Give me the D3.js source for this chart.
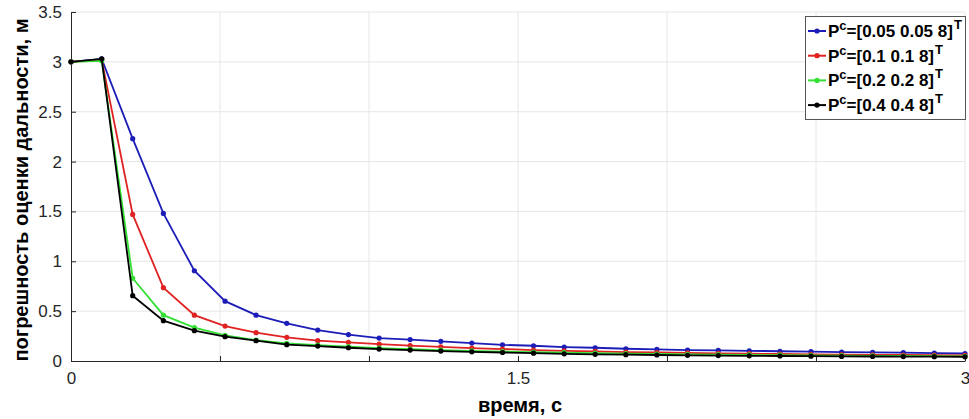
<!DOCTYPE html>
<html lang="ru">
<head>
<meta charset="UTF-8">
<title>погрешность оценки дальности</title>
<script src="https://d3js.org/d3.v7.min.js"></script>
<style>
  body, html { margin: 0; background: #fff; }
  svg { display: block; font-family: "Liberation Sans", Arial, sans-serif; }
  .tick text { fill: #262626; font-size: 17px; }
  .grid line { stroke: #e6e6e6; }
</style>
</head>
<body>
<svg id="chart" width="969" height="419"></svg>
<script>
// time samples, c (30 points from 0 to 3)
var times = [0, 0.103, 0.207, 0.310, 0.414, 0.517, 0.621, 0.724, 0.828, 0.931,
             1.034, 1.138, 1.241, 1.345, 1.448, 1.552, 1.655, 1.759, 1.862, 1.966,
             2.069, 2.172, 2.276, 2.379, 2.483, 2.586, 2.690, 2.793, 2.897, 3.0];

var blueVals = [3.0, 3.03, 2.23, 1.48, 0.905, 0.60, 0.46, 0.378, 0.31, 0.265,
                0.23, 0.215, 0.197, 0.18, 0.162, 0.153, 0.14, 0.133, 0.123, 0.117,
                0.11, 0.106, 0.102, 0.098, 0.094, 0.09, 0.087, 0.083, 0.079, 0.075];
var redVals = [3.0, 3.02, 1.47, 0.735, 0.46, 0.35, 0.284, 0.237, 0.204, 0.187,
               0.17, 0.155, 0.142, 0.13, 0.12, 0.11, 0.102, 0.096, 0.09, 0.085,
               0.081, 0.077, 0.073, 0.07, 0.067, 0.064, 0.062, 0.06, 0.058, 0.056];
var greenVals = [3.0, 3.01, 0.83, 0.46, 0.334, 0.258, 0.21, 0.177, 0.16, 0.145,
                 0.13, 0.12, 0.11, 0.102, 0.095, 0.089, 0.083, 0.078, 0.074, 0.07,
                 0.067, 0.064, 0.061, 0.058, 0.056, 0.054, 0.052, 0.05, 0.048, 0.047];
var blackVals = [3.0, 3.03, 0.655, 0.404, 0.304, 0.244, 0.204, 0.164, 0.15, 0.133,
                 0.12, 0.11, 0.1, 0.092, 0.085, 0.078, 0.072, 0.067, 0.063, 0.06,
                 0.057, 0.054, 0.052, 0.05, 0.048, 0.046, 0.045, 0.044, 0.043, 0.042];

var seriesLabels = ["[0.05 0.05 8]", "[0.1 0.1 8]", "[0.2 0.2 8]", "[0.4 0.4 8]"];
var seriesColors = ["#1c1cb8", "#e02222", "#33e033", "#000000"];

var xTicks = [0, 0.5, 1, 1.5, 2, 2.5, 3];
var xTickLabels = ["0", "", "", "1.5", "", "", "3"];
var yTicks = [0, 0.5, 1, 1.5, 2, 2.5, 3, 3.5];

var series = [blueVals, redVals, greenVals, blackVals].map(function (vals, i) {
    return { label: seriesLabels[i], color: seriesColors[i],
             points: vals.map(function (v, j) { return [times[j], v]; }) };
});

var svg = d3.select("#chart");
var plotLeft = 71, plotRight = 965, plotTop = 12, plotBottom = 361;

var x = d3.scaleLinear().domain([0, 3]).range([plotLeft, plotRight]);
var y = d3.scaleLinear().domain([0, 3.5]).range([plotBottom, plotTop]);

// grid
svg.append("g").attr("class", "grid")
    .selectAll("line").data(xTicks.slice(1)).enter().append("line")
    .attr("x1", d => x(d)).attr("x2", d => x(d)).attr("y1", plotTop).attr("y2", plotBottom);
svg.append("g").attr("class", "grid")
    .selectAll("line").data(yTicks.slice(1)).enter().append("line")
    .attr("x1", plotLeft).attr("x2", plotRight).attr("y1", d => y(d)).attr("y2", d => y(d));

// axes
var xAxis = d3.axisBottom(x).tickValues(xTicks)
    .tickFormat((d, i) => xTickLabels[i]).tickSizeInner(-5).tickSizeOuter(0).tickPadding(11);
var yAxis = d3.axisLeft(y).tickValues(yTicks)
    .tickFormat(d3.format("")).tickSizeInner(-5).tickSizeOuter(0).tickPadding(9);

var gx = svg.append("g").attr("transform", "translate(0," + plotBottom + ")").call(xAxis);
var gy = svg.append("g").attr("transform", "translate(" + plotLeft + ",0)").call(yAxis);
[gx, gy].forEach(function (g) {
    g.selectAll(".domain").attr("stroke", "#262626");
    g.selectAll(".tick line").attr("stroke", "#262626");
});

// lines
var line = d3.line().x(d => x(d[0])).y(d => y(d[1]));
series.forEach(function (s) {
    svg.append("path").datum(s.points)
        .attr("fill", "none").attr("stroke", s.color).attr("stroke-width", 1.8)
        .attr("d", line);
    svg.append("g").selectAll("circle").data(s.points).enter().append("circle")
        .attr("cx", d => x(d[0])).attr("cy", d => y(d[1])).attr("r", 2.6)
        .attr("fill", s.color);
});

// axis titles
svg.append("text")
    .attr("x", 520).attr("y", 412)
    .attr("text-anchor", "middle")
    .style("font-size", "20px").style("font-weight", "bold")
    .text("время, с");
svg.append("text")
    .attr("transform", "translate(28,190) rotate(-90)")
    .attr("text-anchor", "middle")
    .style("font-size", "20px").style("font-weight", "bold")
    .text("погрешность оценки дальности, м");

// legend
var lg = svg.append("g");
lg.append("rect")
    .attr("x", 805.5).attr("y", 16.5).attr("width", 160).attr("height", 103)
    .attr("fill", "#fff").attr("stroke", "#555").attr("stroke-width", 1);
series.forEach(function (s, i) {
    var yy = 31 + i * 24.7;
    lg.append("line").attr("x1", 808).attr("x2", 826).attr("y1", yy).attr("y2", yy)
        .attr("stroke", s.color).attr("stroke-width", 2);
    lg.append("circle").attr("cx", 817).attr("cy", yy).attr("r", 2.6).attr("fill", s.color);
    var t = lg.append("text").attr("x", 828).attr("y", yy + 6)
        .style("font-size", "17px").style("font-weight", "bold");
    t.append("tspan").text("P");
    t.append("tspan").attr("dy", -7).style("font-size", "13px").text("c");
    t.append("tspan").attr("dy", 7).text("=" + s.label);
    t.append("tspan").attr("dy", -8).attr("dx", 1).style("font-size", "13px").text("T");
});
</script>
</body>
</html>
